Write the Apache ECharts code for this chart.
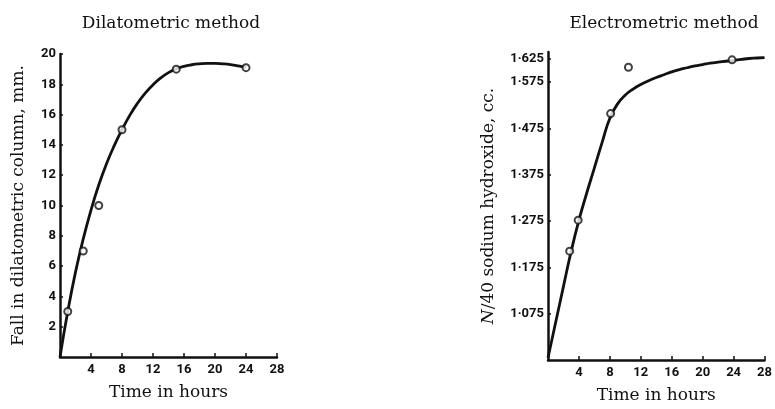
<!DOCTYPE html>
<html>
<head>
<meta charset="utf-8">
<script src="https://cdn.jsdelivr.net/npm/echarts@6/dist/echarts.min.js"></script>
<style>
  html, body { margin: 0; padding: 0; background: #fff; }
  #chart { width: 775px; height: 409px; }
</style>
</head>
<body>
<div id="chart"></div>
<script>
// Dilatometric method (left panel)
const dilaHours = [1, 3, 5, 8, 15, 24];
const dilaFall = [3, 7, 10, 15, 19, 19.1];
const dilaCurveHours = [0, 1, 2, 3, 4, 5, 6, 7, 8, 9, 10, 11, 12, 13, 14, 15, 16, 17, 18, 19, 20, 21, 22, 23, 24];
const dilaCurveFall = [0, 3, 5.6, 7.8, 9.7, 11.35, 12.75, 13.95, 15.0, 15.95, 16.75, 17.42, 17.97, 18.42, 18.77, 19.02, 19.19, 19.29, 19.35, 19.38, 19.38, 19.35, 19.3, 19.22, 19.12];

// Electrometric method (right panel)
const elecHours = [2.8, 3.9, 8.1, 10.4, 23.8];
const elecNaOH = [1.21, 1.277, 1.507, 1.607, 1.623];
const elecCurveHours = [0, 1, 2, 3, 4, 5, 6, 7, 8, 9, 10, 11, 12, 13, 14, 15, 16, 17, 18, 19, 20, 21, 22, 23, 24, 25, 26, 27, 28];
const elecCurveNaOH = [0.98, 1.057, 1.134, 1.21, 1.277, 1.335, 1.39, 1.445, 1.497, 1.528, 1.547, 1.56, 1.57, 1.578, 1.585, 1.591, 1.597, 1.602, 1.606, 1.61, 1.613, 1.616, 1.618, 1.62, 1.622, 1.624, 1.626, 1.627, 1.628];

const naohTicks = [1.075, 1.175, 1.275, 1.375, 1.475, 1.575, 1.625];

const serif = '"DejaVu Serif", "Liberation Serif", serif';
const narrow = 'Roboto, "Liberation Sans", sans-serif';

const zip = (xs, ys) => xs.map((x, i) => [x, ys[i]]);

function xAxisFor(idx) {
  return {
    gridIndex: idx,
    type: 'value',
    min: 0,
    max: 28,
    interval: 4,
    name: 'Time in hours',
    nameLocation: 'middle',
    nameGap: 27,
    nameTextStyle: { fontFamily: serif, fontSize: 17, color: '#111' },
    axisLine: { lineStyle: { color: '#111', width: 2.5 } },
    axisTick: { inside: true, length: 4, lineStyle: { color: '#111', width: 1.5 } },
    axisLabel: {
      showMinLabel: false,
      margin: 6,
      fontFamily: narrow,
      fontWeight: 'bold',
      fontSize: 13,
      color: '#111'
    },
    splitLine: { show: false }
  };
}

const chart = echarts.init(document.getElementById('chart'));

chart.setOption({
  animation: false,
  backgroundColor: '#fff',
  title: [
    {
      text: 'Dilatometric method',
      left: 166,
      top: 10,
      textAlign: 'center',
      textStyle: { fontFamily: serif, fontSize: 17, fontWeight: 'normal', color: '#111' }
    },
    {
      text: 'Electrometric method',
      left: 659,
      top: 10,
      textAlign: 'center',
      textStyle: { fontFamily: serif, fontSize: 17, fontWeight: 'normal', color: '#111' }
    }
  ],
  grid: [
    { left: 60, top: 54, width: 217, height: 303 },
    { left: 548, top: 52, width: 217, height: 308 }
  ],
  xAxis: [xAxisFor(0), xAxisFor(1)],
  yAxis: [
    {
      gridIndex: 0,
      type: 'value',
      min: 0,
      max: 20,
      interval: 2,
      name: 'Fall in dilatometric column, mm.',
      nameLocation: 'middle',
      nameGap: 33,
      nameTextStyle: { fontFamily: serif, fontSize: 17, color: '#111' },
      axisLine: { show: true, lineStyle: { color: '#111', width: 2.5 } },
      axisTick: { show: true, inside: true, length: 3, lineStyle: { color: '#111', width: 1.5 } },
      axisLabel: {
        showMinLabel: false,
        margin: 4,
        fontFamily: narrow,
        fontWeight: 'bold',
        fontSize: 13,
        color: '#111'
      },
      splitLine: { show: false }
    },
    {
      gridIndex: 1,
      type: 'value',
      min: 0.975,
      max: 1.64,
      name: '{i|N}/40 sodium hydroxide, cc.',
      nameLocation: 'middle',
      nameGap: 51,
      nameTextStyle: {
        fontFamily: serif,
        fontSize: 17,
        color: '#111',
        rich: { i: { fontFamily: serif, fontSize: 17, fontStyle: 'italic', color: '#111' } }
      },
      axisLine: { show: true, lineStyle: { color: '#111', width: 2.5 } },
      axisTick: {
        show: true,
        inside: true,
        length: 3,
        customValues: naohTicks,
        lineStyle: { color: '#111', width: 1.5 }
      },
      axisLabel: {
        margin: 4,
        customValues: naohTicks,
        formatter: v => v.toFixed(3).replace('.', '\u00b7'),
        fontFamily: narrow,
        fontWeight: 'bold',
        fontSize: 13,
        color: '#111'
      },
      splitLine: { show: false }
    }
  ],
  series: [
    {
      type: 'line',
      xAxisIndex: 0,
      yAxisIndex: 0,
      data: zip(dilaCurveHours, dilaCurveFall),
      smooth: true,
      showSymbol: false,
      lineStyle: { color: '#111', width: 2.8 },
      z: 2
    },
    {
      type: 'scatter',
      xAxisIndex: 0,
      yAxisIndex: 0,
      data: zip(dilaHours, dilaFall),
      symbol: 'circle',
      symbolSize: 7,
      itemStyle: { color: '#fff', borderColor: '#111', borderWidth: 2 },
      z: 3
    },
    {
      type: 'line',
      xAxisIndex: 1,
      yAxisIndex: 1,
      data: zip(elecCurveHours, elecCurveNaOH),
      smooth: true,
      showSymbol: false,
      lineStyle: { color: '#111', width: 2.8 },
      z: 2
    },
    {
      type: 'scatter',
      xAxisIndex: 1,
      yAxisIndex: 1,
      data: zip(elecHours, elecNaOH),
      symbol: 'circle',
      symbolSize: 7,
      itemStyle: { color: '#fff', borderColor: '#111', borderWidth: 2 },
      z: 3
    }
  ]
});
</script>
</body>
</html>
